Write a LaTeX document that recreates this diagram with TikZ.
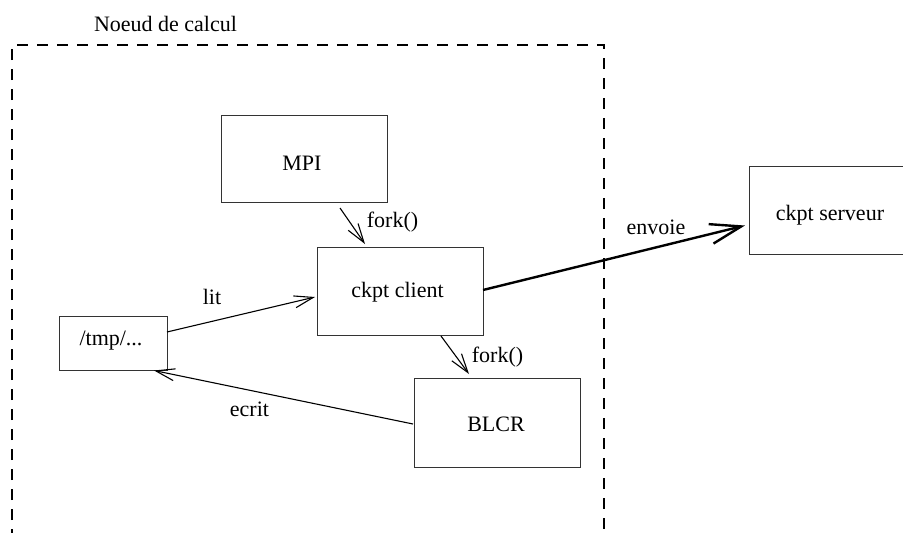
\documentclass[tikz,border=0pt]{standalone}
\usepackage{fontspec}
\setmainfont{Liberation Serif}
\usetikzlibrary{arrows.meta}

\tikzset{
  box/.style={draw=black!80, line width=1pt, inner sep=0pt},
  txt/.style={anchor=base, inner sep=0pt, font=\fontsize{22}{26}\selectfont},
  flow/.style={line width=1.1pt, -{Straight Barb[length=19pt, width=12pt, line width=1.1pt]}},
  sendflow/.style={line width=2.4pt, -{Straight Barb[length=31pt, width=20pt, line width=2.4pt]}},
  frame/.style={line width=2.8pt, dash pattern=on 11pt off 9pt}
}

\begin{document}
\begin{tikzpicture}[x=1pt, y=-1pt]
  \useasboundingbox (0,0) rectangle (903,533);

  % compute node frame (open at the bottom)
  \draw[frame] (12,560) -- (12,45) -- (604,45) -- (604,560);
  \node[txt] (title) at (165.5,31) {Noeud de calcul};

  % boxes
  \node[box, minimum width=166pt, minimum height=87pt] (mpi)     at (304,158.5) {};
  \node[box, minimum width=166pt, minimum height=88pt] (client)  at (400,291) {};
  \node[box, minimum width=108pt, minimum height=54pt] (tmp)     at (113,343) {};
  \node[box, minimum width=166pt, minimum height=89pt] (blcr)    at (497,422.5) {};
  \node[box, minimum width=170pt, minimum height=88pt] (serveur) at (834,210) {};

  % box texts
  \node[txt] (mpit)     at (302,170.5) {MPI};
  \node[txt] (clientt)  at (397.5,297) {ckpt client};
  \node[txt] (tmpt)     at (111,345) {/tmp/...};
  \node[txt] (blcrt)    at (496,431.5) {BLCR};
  \node[txt] (serveurt) at (830,220.5) {ckpt serveur};

  % connector ends
  \coordinate (f1a) at (340,208);
  \coordinate (f1b) at (365,244);
  \coordinate (f2a) at (441,336);
  \coordinate (f2b) at (469,374);
  \coordinate (lita) at (167,332);
  \coordinate (litb) at (315,297);
  \coordinate (ecra) at (413,424);
  \coordinate (ecrb) at (154,370.5);
  \coordinate (enva) at (483,290);
  \coordinate (envb) at (745,225.5);

  % connectors
  \draw[flow] (f1a) -- (f1b);
  \draw[flow] (f2a) -- (f2b);
  \draw[flow] (lita) -- (litb);
  \draw[flow] (ecra) -- (ecrb);
  \draw[sendflow] (enva) -- (envb);

  % connector labels
  \node[txt] (fork1) at (392.5,227.5) {fork()};
  \node[txt] (fork2) at (497.5,362.5) {fork()};
  \node[txt] (lit)   at (212,304) {lit};
  \node[txt] (ecrit) at (249.5,416.5) {ecrit};
  \node[txt] (envoie) at (656,234) {envoie};
\end{tikzpicture}
\end{document}
